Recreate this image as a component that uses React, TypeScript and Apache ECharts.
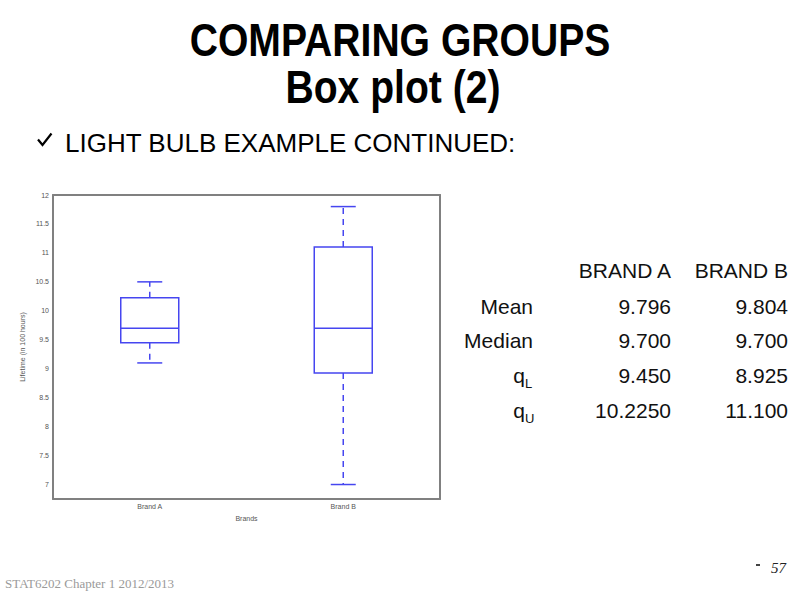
import React, { useEffect, useRef } from "react";
import * as echarts from "echarts";

// ---- data ----
const brands = ["Brand A", "Brand B"];
const whiskerLow = [9.1, 7.0];
const lowerQuartile = [9.45, 8.925];
const medians = [9.7, 9.7];
const upperQuartile = [10.225, 11.1];
const whiskerHigh = [10.5, 11.8];

const yTicks = [7, 7.5, 8, 8.5, 9, 9.5, 10, 10.5, 11, 11.5, 12];

const tableHeaders = ["BRAND A", "BRAND B"];
const rowLabels = ["Mean", "Median", "q", "q"];
const rowSubs = ["", "", "L", "U"];
const brandAStats = ["9.796", "9.700", "9.450", "10.2250"];
const brandBStats = ["9.804", "9.700", "8.925", "11.100"];

const BLUE = "#4646f0";
const FRAME = "#808080";
const SANS = "'Liberation Sans', Arial, sans-serif";
const SERIF = "'Liberation Serif', 'Times New Roman', serif";

export default function App() {
  const ref = useRef<HTMLDivElement>(null);

  useEffect(() => {
    if (!ref.current) return;
    const chart = echarts.init(ref.current, undefined, { renderer: "svg" });

    const boxData = brands.map((_, i) => [
      i,
      whiskerLow[i],
      lowerQuartile[i],
      medians[i],
      upperQuartile[i],
      whiskerHigh[i],
    ]);

    const renderItem = (params: any, api: any) => {
      const idx = api.value(0);
      const pLow = api.coord([idx, api.value(1)]);
      const pQ1 = api.coord([idx, api.value(2)]);
      const pMed = api.coord([idx, api.value(3)]);
      const pQ3 = api.coord([idx, api.value(4)]);
      const pHigh = api.coord([idx, api.value(5)]);
      const cx = pMed[0];
      const bw = 58;
      const cw = 25;
      const solid = { stroke: BLUE, lineWidth: 1.5, fill: "none" };
      const dashed = { stroke: BLUE, lineWidth: 1.5, lineDash: [6, 5] };
      return {
        type: "group",
        children: [
          {
            type: "line",
            shape: { x1: cx, y1: pQ3[1], x2: cx, y2: pHigh[1] },
            style: dashed,
          },
          {
            type: "line",
            shape: { x1: cx, y1: pQ1[1], x2: cx, y2: pLow[1] },
            style: dashed,
          },
          {
            type: "rect",
            shape: { x: cx - bw / 2, y: pQ3[1], width: bw, height: pQ1[1] - pQ3[1] },
            style: solid,
          },
          {
            type: "line",
            shape: { x1: cx - bw / 2, y1: pMed[1], x2: cx + bw / 2, y2: pMed[1] },
            style: solid,
          },
          {
            type: "line",
            shape: { x1: cx - cw / 2, y1: pHigh[1], x2: cx + cw / 2, y2: pHigh[1] },
            style: solid,
          },
          {
            type: "line",
            shape: { x1: cx - cw / 2, y1: pLow[1], x2: cx + cw / 2, y2: pLow[1] },
            style: solid,
          },
        ],
      };
    };

    const graphics: any[] = [
      {
        type: "text",
        x: 400,
        y: 40,
        scaleX: 0.85,
        style: {
          text: "COMPARING GROUPS",
          fontSize: 46,
          fontWeight: "bold",
          fontFamily: SANS,
          fill: "#000",
          align: "center",
          verticalAlign: "middle",
        },
      },
      {
        type: "text",
        x: 393,
        y: 87,
        scaleX: 0.85,
        style: {
          text: "Box plot (2)",
          fontSize: 46,
          fontWeight: "bold",
          fontFamily: SANS,
          fill: "#000",
          align: "center",
          verticalAlign: "middle",
        },
      },
      {
        type: "polyline",
        shape: { points: [[38, 139.5], [42.5, 145], [51.5, 133.5]] },
        style: { stroke: "#000", lineWidth: 2.2, fill: "none", lineJoin: "miter" },
      },
      {
        type: "text",
        x: 65,
        y: 143,
        style: {
          text: "LIGHT BULB EXAMPLE CONTINUED:",
          fontSize: 26,
          fontFamily: SANS,
          fill: "#000",
          align: "left",
          verticalAlign: "middle",
        },
      },
      {
        type: "text",
        x: 5,
        y: 583,
        style: {
          text: "STAT6202 Chapter 1 2012/2013",
          fontSize: 13,
          fontFamily: SERIF,
          fill: "#9a9a9a",
          align: "left",
          verticalAlign: "middle",
        },
      },
      {
        type: "text",
        x: 771,
        y: 568,
        style: {
          text: "57",
          fontSize: 15,
          fontStyle: "italic",
          fontFamily: SERIF,
          fill: "#222",
          align: "left",
          verticalAlign: "middle",
        },
      },
      {
        type: "rect",
        shape: { x: 756, y: 564, width: 4, height: 2 },
        style: { fill: "#444" },
      },
    ];

    const colRight = [671, 788];
    const headerY = 270;
    tableHeaders.forEach((h, j) => {
      graphics.push({
        type: "text",
        x: colRight[j],
        y: headerY,
        style: {
          text: h,
          fontSize: 21,
          fontFamily: SANS,
          fill: "#111",
          align: "right",
          verticalAlign: "middle",
        },
      });
    });
    const rowY = [306, 340.5, 375.5, 410];
    rowLabels.forEach((lab, i) => {
      const sub = rowSubs[i];
      const labelRight = sub ? 525 : 533;
      graphics.push({
        type: "text",
        x: labelRight,
        y: rowY[i],
        style: {
          text: lab,
          fontSize: 21,
          fontFamily: SANS,
          fill: "#111",
          align: "right",
          verticalAlign: "middle",
        },
      });
      if (sub) {
        graphics.push({
          type: "text",
          x: 525,
          y: rowY[i] + 8,
          style: {
            text: sub,
            fontSize: 13,
            fontFamily: SANS,
            fill: "#111",
            align: "left",
            verticalAlign: "middle",
          },
        });
      }
      [brandAStats, brandBStats].forEach((col, j) => {
        graphics.push({
          type: "text",
          x: colRight[j],
          y: rowY[i],
          style: {
            text: col[i],
            fontSize: 21,
            fontFamily: SANS,
            fill: "#111",
            align: "right",
            verticalAlign: "middle",
          },
        });
      });
    });

    const axisLineStyle = { lineStyle: { color: FRAME, width: 2 } };
    const tickStyle = { inside: true, length: 4, lineStyle: { color: "#666", width: 1 } };

    chart.setOption({
      animation: false,
      backgroundColor: "#fff",
      grid: { left: 53, top: 195, width: 387, height: 304, containLabel: false },
      xAxis: [
        {
          type: "category",
          data: brands,
          position: "bottom",
          axisLine: axisLineStyle,
          axisTick: { ...tickStyle, alignWithLabel: true },
          axisLabel: { fontSize: 7, color: "#555", margin: 4, fontFamily: SANS },
          name: "Brands",
          nameLocation: "middle",
          nameGap: 16,
          nameTextStyle: { fontSize: 7, color: "#555", fontFamily: SANS },
        },
        {
          type: "category",
          data: brands,
          position: "top",
          axisLine: axisLineStyle,
          axisTick: { ...tickStyle, alignWithLabel: true },
          axisLabel: { show: false },
        },
      ],
      yAxis: [
        {
          type: "value",
          min: 6.75,
          max: 12,
          position: "left",
          axisLine: { show: true, ...axisLineStyle },
          axisTick: { ...tickStyle, customValues: yTicks },
          axisLabel: {
            customValues: yTicks,
            fontSize: 7,
            color: "#555",
            margin: 4,
            fontFamily: SANS,
          },
          splitLine: { show: false },
          name: "Lifetime (in 100 hours)",
          nameLocation: "middle",
          nameGap: 27,
          nameRotate: 90,
          nameTextStyle: { fontSize: 7, color: "#555", fontFamily: SANS },
        },
        {
          type: "value",
          min: 6.75,
          max: 12,
          position: "right",
          axisLine: { show: true, ...axisLineStyle },
          axisTick: { ...tickStyle, customValues: yTicks },
          axisLabel: { show: false },
          splitLine: { show: false },
        },
      ],
      series: [
        {
          type: "custom",
          xAxisIndex: 0,
          yAxisIndex: 0,
          renderItem,
          encode: { x: 0, y: [1, 2, 3, 4, 5] },
          data: boxData,
          clip: false,
          silent: true,
        },
      ],
      graphic: graphics,
    });

    return () => chart.dispose();
  }, []);

  return (
    <div
      ref={ref}
      style={{ position: "fixed", left: 0, top: 0, width: 800, height: 600, background: "#fff" }}
    />
  );
}
